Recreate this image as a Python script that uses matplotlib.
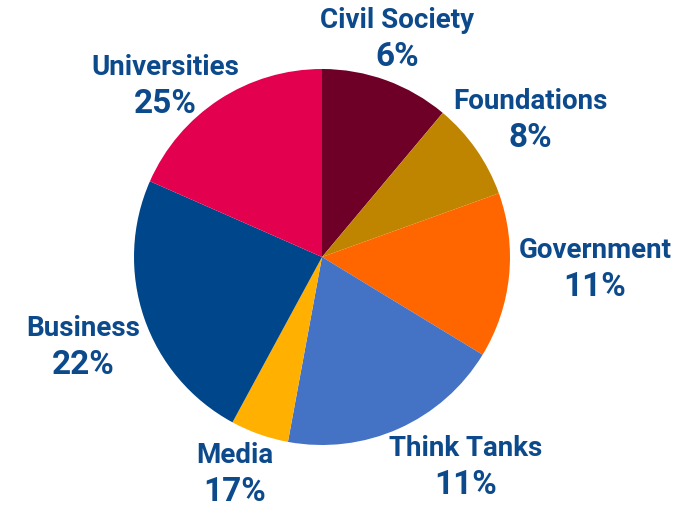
import matplotlib.pyplot as plt

# sectors clockwise from 12 o'clock
sectors = ['Civil Society', 'Foundations', 'Government', 'Think Tanks',
           'Media', 'Business', 'Universities']
shares = [11.1, 8.4, 14.2, 19.2, 5.0, 23.7, 18.4]
pct_labels = ['6%', '8%', '11%', '11%', '17%', '22%', '25%']
colors = ['#6E0028', '#BF8500', '#FF6600', '#4472C4',
          '#FFB000', '#00468B', '#E3004F']

# label anchor points (pixel space, y measured from top)
label_xy = [(397, 20), (530, 101), (595, 250), (466, 448),
            (235, 455), (83, 328), (165, 67)]

W, H = 686, 511
fig = plt.figure(figsize=(W / 100, H / 100), dpi=100)
ax = fig.add_axes([0, 0, 1, 1])

ax.pie(shares, colors=colors, startangle=90, counterclock=False,
       center=(322, H - 257), radius=188,
       wedgeprops={'linewidth': 0})
ax.set_xlim(0, W)
ax.set_ylim(0, H)
ax.set_aspect('equal')
ax.axis('off')

txt_color = '#0D4A8C'
fam = ['Roboto', 'DejaVu Sans']
for name, pct, (x, y) in zip(sectors, pct_labels, label_xy):
    ax.text(x, H - y, name, ha='center', va='center', fontsize=20,
            fontweight='bold', color=txt_color, family=fam)
    ax.text(x, H - y - 37, pct, ha='center', va='center', fontsize=24,
            fontweight='bold', color=txt_color, family=fam)

fig.savefig('out.png', dpi=100)
